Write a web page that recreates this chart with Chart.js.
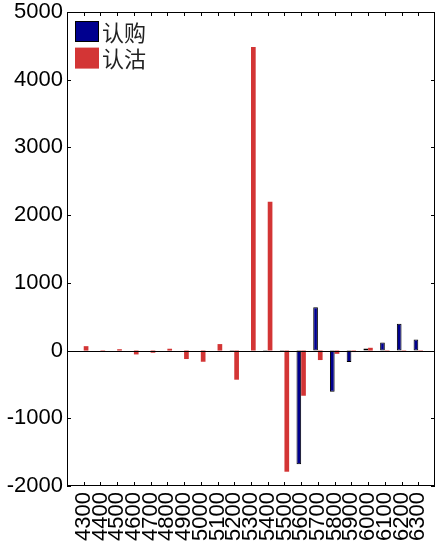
<!DOCTYPE html>
<html><head><meta charset="utf-8">
<script src="https://cdn.jsdelivr.net/npm/chart.js@4"></script>
<style>html,body{margin:0;padding:0;background:#fff}#wrap{width:438px;height:549px}</style>
</head><body><div id="wrap"><canvas id="c" width="438" height="549"></canvas></div>
<script>
const categories = ['4300','4400','4500','4600','4700','4800','4900','5000','5100','5200','5300','5400','5500','5600','5700','5800','5900','6000','6100','6200','6300'];
const callValues = [0,0,0,0,0,0,0,0,0,-15,0,-20,-10,-1680,638,-608,-170,32,121,396,165];
const putValues = [65,-10,20,-57,-32,27,-125,-165,96,-430,4484,2196,-1789,-667,-140,-48,-22,41,-6,-6,-6];
const seriesNames = ['认购','认沽'];
const yMin = -2000, yMax = 5000, yStep = 1000;

const toPoints = vals => vals.map((v, i) => ({x: i + 1, y: v}));

const frame = {
  id: 'frame',
  afterDatasetsDraw(chart) {
    const {ctx, chartArea: a, scales: {x, y}} = chart;
    ctx.save();
    ctx.strokeStyle = '#000';
    ctx.lineWidth = 1;
    const z = Math.round(y.getPixelForValue(0)) + 0.5;
    ctx.beginPath(); ctx.moveTo(a.left, z); ctx.lineTo(a.right, z); ctx.stroke();
    ctx.beginPath();
    const L = 4;
    y.ticks.forEach(t => {
      const p = Math.round(y.getPixelForValue(t.value)) + 0.5;
      ctx.moveTo(a.left, p); ctx.lineTo(a.left + L, p);
      ctx.moveTo(a.right, p); ctx.lineTo(a.right - L, p);
    });
    x.ticks.forEach(t => {
      const p = Math.round(x.getPixelForValue(t.value)) + 0.5;
      ctx.moveTo(p, a.top); ctx.lineTo(p, a.top + L);
      ctx.moveTo(p, a.bottom); ctx.lineTo(p, a.bottom - L);
    });
    ctx.stroke();
    ctx.strokeRect(Math.round(a.left) + 0.5, Math.round(a.top) + 0.5, Math.round(a.right - a.left) - 1, Math.round(a.bottom - a.top) - 1);
    // legend
    ctx.font = '22px "Noto Sans CJK SC", sans-serif';
    ctx.textBaseline = 'middle';
    ctx.textAlign = 'left';
    chart.data.datasets.forEach((ds, i) => {
      const bx = a.left + 8, by = a.top + 9 + i * 26.6, bw = 24, bh = 21;
      ctx.fillStyle = ds.backgroundColor;
      ctx.fillRect(bx, by, bw, bh);
      if (ds.borderWidth) { ctx.strokeStyle = ds.borderColor; ctx.strokeRect(bx + 0.5, by + 0.5, bw - 1, bh - 1); }
      ctx.fillStyle = '#222';
      ctx.fillText(ds.label, bx + bw + 3, by + bh / 2 + 1);
    });
    ctx.restore();
  }
};

new Chart(document.getElementById('c'), {
  type: 'bar',
  data: {
    datasets: [
      {label: seriesNames[0], data: toPoints(callValues), backgroundColor: '#00008f', borderColor: '#000', borderWidth: 1, borderSkipped: false},
      {label: seriesNames[1], data: toPoints(putValues), backgroundColor: '#d33535', borderWidth: 0}
    ]
  },
  options: {
    responsive: false,
    animation: false,
    devicePixelRatio: 1,
    layout: {padding: {top: 12, right: 3, left: 0, bottom: 0}},
    datasets: {bar: {categoryPercentage: 0.56, barPercentage: 1.0}},
    plugins: {tooltip: {enabled: false}, legend: {display: false}},
    scales: {
      x: {
        type: 'linear', min: 0, max: categories.length + 1, offset: false,
        grid: {display: false, drawTicks: false, offset: false},
        border: {display: false},
        afterBuildTicks(s) { s.ticks = categories.map((c, i) => ({value: i + 1})); },
        ticks: {
          minRotation: 90, maxRotation: 90, autoSkip: false, padding: 6,
          color: '#000', font: {family: '"Liberation Sans", Arial, sans-serif', size: 22},
          callback: v => categories[v - 1]
        },
        afterFit(s) { s.height = 63; s.paddingLeft = 0; s.paddingRight = 0; }
      },
      y: {
        min: yMin, max: yMax,
        grid: {display: false, drawTicks: false},
        border: {display: false},
        ticks: {
          stepSize: yStep, padding: 4, color: '#000',
          font: {family: '"Liberation Sans", Arial, sans-serif', size: 22},
          callback: v => String(v)
        },
        afterFit(s) { s.width = 67; s.paddingTop = 0; s.paddingBottom = 0; }
      }
    }
  },
  plugins: [frame]
});
</script></body></html>
